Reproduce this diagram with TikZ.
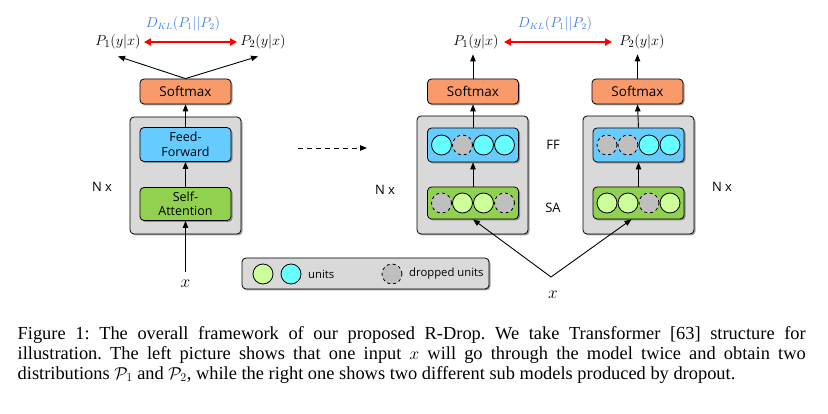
\documentclass[tikz,border=0pt]{standalone}
\usepackage{fontspec}
\setmainfont{Liberation Serif}
\newfontfamily\labfont{Open Sans}
\usetikzlibrary{arrows.meta,shadows}
\definecolor{softc}{HTML}{F99A6B}
\definecolor{ffc}{HTML}{66CCFF}
\definecolor{sac}{HTML}{92D050}
\definecolor{contc}{HTML}{D9D9D9}
\definecolor{unitg}{HTML}{CCFF99}
\definecolor{unitc}{HTML}{66FFFF}
\definecolor{dropc}{HTML}{BFBFBF}
\definecolor{klc}{HTML}{3B7DF0}
\begin{document}
\begin{tikzpicture}[x=1pt,y=-1pt,
  shad/.style={drop shadow={shadow xshift=1.5pt,shadow yshift=-1.5pt,opacity=0.35,fill=black}},
  cont/.style={draw=black,line width=0.8pt,fill=contc,rounded corners=4pt,shad,minimum width=111pt,minimum height=117pt,inner sep=0pt},
  blk/.style={draw=black,line width=0.8pt,rounded corners=4pt,shad,minimum width=91pt,inner sep=0pt,font=\labfont\fontsize{12.5}{14.5}\selectfont,align=center},
  softbox/.style={blk,fill=softc,minimum height=25pt,font=\labfont\fontsize{13.5}{15}\selectfont},
  ffbox/.style={blk,fill=ffc,minimum height=34pt},
  sabox/.style={blk,fill=sac,minimum height=33pt},
  unit/.style={circle,draw=black,line width=0.8pt,minimum size=20pt,inner sep=0pt},
  ug/.style={unit,fill=unitg},
  uc/.style={unit,fill=unitc},
  ud/.style={unit,fill=dropc,dashed},
  lab/.style={font=\labfont\fontsize{13}{15}\selectfont,inner sep=0pt},
  leglab/.style={font=\labfont\fontsize{11.3}{13}\selectfont,inner sep=0pt},
  prob/.style={font=\fontsize{15.5}{18}\selectfont,inner sep=3pt},
  kl/.style={font=\fontsize{13.5}{15}\selectfont,text=klc,inner sep=0pt},
  xlab/.style={font=\fontsize{16}{18}\selectfont,inner sep=0pt},
  arr/.style={-{Triangle[length=7pt,width=5.5pt]},line width=0.9pt},
  redarr/.style={{Triangle[length=7pt,width=7pt]}-{Triangle[length=7pt,width=7pt]},line width=2pt,red},
]
\fill[white] (0,0) rectangle (828,414);
\useasboundingbox (0,0) rectangle (828,414);

% ---------------- left model ----------------
\node[cont] (cL) at (185.5,175.5) {};
\node[softbox] (sL) at (185.5,91.5) {Softmax};
\node[ffbox] (fL) at (185.5,144.5) {Feed-\\Forward};
\node[sabox] (aL) at (185.5,204) {Self-\\Attention};
\node[xlab] (xL) at (185.5,284) {$x$};
\draw[arr] ([yshift=8pt]xL.north) -- (aL.south);
\draw[arr] (aL.north) -- (fL.south);
\draw[arr] (fL.north) -- (sL.south);
\node[prob] (p1L) at (118,42) {$P_1(y|x)$};
\node[prob] (p2L) at (263,42) {$P_2(y|x)$};
\node[kl] (kL) at (183,24) {$D_{KL}(P_1||P_2)$};
\draw[redarr] (p1L.east) -- (p2L.west);
\draw[arr] (sL.north) -- ([yshift=-4pt]p1L.south);
\draw[arr] (sL.north) -- ([xshift=-5pt,yshift=-4pt]p2L.south);
\node[lab] (nL) at (102,187) {N x};

% dashed arrow
\coordinate (d1) at (298,148);
\coordinate (d2) at (367,148);
\draw[arr,dash pattern=on 5pt off 4pt] (d1) -- (d2);

% ---------------- right models ----------------
\node[cont,minimum height=118pt] (c1) at (472.5,175) {};
\node[cont,minimum height=118pt] (c2) at (638.5,175) {};
\node[softbox] (s1) at (473,91.5) {Softmax};
\node[softbox] (s2) at (637.5,91.5) {Softmax};
\node[ffbox] (f1) at (473,145) {};
\node[sabox,minimum height=32pt] (a1) at (473,203) {};
\node[ffbox] (f2) at (638.5,145) {};
\node[sabox,minimum height=32pt] (a2) at (638.5,203) {};

% units model 1
\node[uc] (f1u1) at (441.5,145) {};
\node[ud] (f1u2) at (462.5,145) {};
\node[uc] (f1u3) at (483.5,145) {};
\node[uc] (f1u4) at (504.5,145) {};
\node[ud] (a1u1) at (441.5,203) {};
\node[ug] (a1u2) at (462.5,203) {};
\node[ug] (a1u3) at (483.5,203) {};
\node[ud] (a1u4) at (504.5,203) {};
% units model 2
\node[ud] (f2u1) at (607,145) {};
\node[ud] (f2u2) at (628,145) {};
\node[uc] (f2u3) at (649,145) {};
\node[uc] (f2u4) at (670,145) {};
\node[ug] (a2u1) at (607,203) {};
\node[ug] (a2u2) at (628,203) {};
\node[ud] (a2u3) at (649,203) {};
\node[ug] (a2u4) at (670,203) {};

\draw[arr] (a1.north) -- (f1.south);
\draw[arr] (f1.north) -- (s1.south);
\draw[arr] (a2.north) -- (f2.south);
\draw[arr] (f2.north) -- (s2.south);

\node[prob] (p1R) at (476,42) {$P_1(y|x)$};
\node[prob] (p2R) at (642,42) {$P_2(y|x)$};
\node[kl] (kR) at (555,24) {$D_{KL}(P_1||P_2)$};
\draw[redarr] ([xshift=2pt]p1R.east) -- ([xshift=-4pt]p2R.west);
\path (s1.north |- p1R.south) coordinate (t1);
\path (s2.north |- p2R.south) coordinate (t2);
\draw[arr] (s1.north) -- ([yshift=-2pt]t1);
\draw[arr] (s2.north) -- ([yshift=-2pt]t2);

\node[lab] (ffl) at (553,145) {FF};
\node[lab] (sal) at (553,208) {SA};
\node[lab] (nR1) at (385,190) {N x};
\node[lab] (nR2) at (722,187) {N x};

\node[xlab] (xR) at (553,295) {$x$};
\coordinate (apex) at (551,277);
\draw[arr] (apex) -- (a1.south);
\draw[arr] (apex) -- ([xshift=-7pt]a2.south);

% ---------------- legend ----------------
\node[cont,minimum width=247pt,minimum height=31pt] (leg) at (365.5,273.5) {};
\node[ug] (lg1) at (263,274) {};
\node[uc] (lg2) at (291,274) {};
\node[leglab,anchor=west] (lgt1) at (308,274) {units};
\node[ud] (lg3) at (392,274) {};
\node[leglab,anchor=west] (lgt2) at (409,274) {dropped units};

% ---------------- caption ----------------
\node[anchor=base west,inner sep=0pt,text width=788pt,align=justify,font=\fontsize{18.4}{20}\selectfont\frenchspacing] (cap) at (17.5,339.3)
{Figure 1: The overall framework of our proposed R-Drop. We take Transformer [63] structure for\linebreak
illustration. The left picture shows that one input $x$ will go through the model twice and obtain two\linebreak
distributions $\mathcal{P}_1$ and $\mathcal{P}_2$, while the right one shows two different sub models produced by dropout.};
\end{tikzpicture}
\end{document}
